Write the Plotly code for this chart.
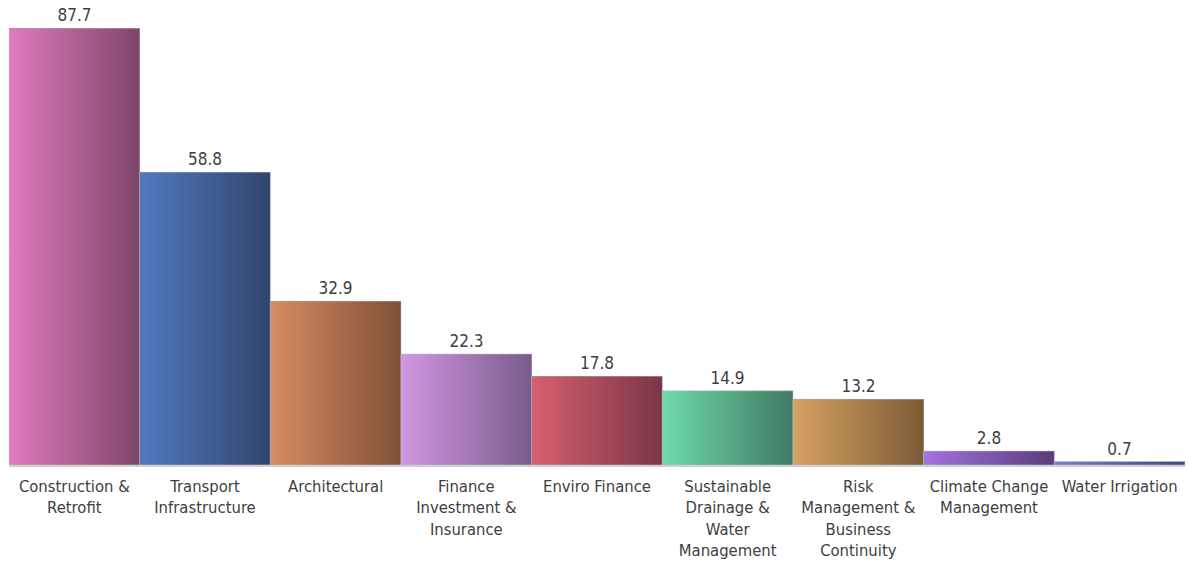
import plotly.graph_objects as go

categories = [
    "Construction &<br>Retrofit",
    "Transport<br>Infrastructure",
    "Architectural",
    "Finance<br>Investment &<br>Insurance",
    "Enviro Finance",
    "Sustainable<br>Drainage &<br>Water<br>Management",
    "Risk<br>Management &<br>Business<br>Continuity",
    "Climate Change<br>Management",
    "Water Irrigation",
]
values = [87.7, 58.8, 32.9, 22.3, 17.8, 14.9, 13.2, 2.8, 0.7]
left_colors = ["#e07bbf", "#5279c2", "#d98b63", "#d397e3", "#d6606f",
               "#6fdaab", "#d6a263", "#a273de", "#6b82d2"]
right_colors = ["#7e4669", "#30456d", "#7e5137", "#785b8a", "#7a3646",
                "#3f7a62", "#7c5a35", "#583c7a", "#394a7c"]

FONT = "Tahoma, 'DejaVu Sans Condensed', 'Liberation Sans', sans-serif"
TXT = "#404040"

fig = go.Figure()
x = list(range(len(values)))

# Base bars (carry the value labels)
fig.add_trace(go.Bar(
    x=x, y=values, width=1.0,
    marker=dict(color=right_colors, line=dict(width=0)),
    text=[f"{v:.1f}" for v in values], textposition="outside",
    textfont=dict(family=FONT, size=17, color=TXT),
    cliponaxis=False, showlegend=False, hoverinfo="skip",
))

# Gradient overlays built from the same data
for i, v in enumerate(values):
    fig.add_trace(go.Scatter(
        x=[i - 0.5, i + 0.5, i + 0.5, i - 0.5, i - 0.5],
        y=[0, 0, v, v, 0],
        mode="lines", fill="toself",
        fillgradient=dict(type="horizontal",
                          colorscale=[[0, left_colors[i]], [1, right_colors[i]]]),
        line=dict(width=1, color="rgba(190,190,200,0.55)"),
        showlegend=False, hoverinfo="skip",
    ))

fig.update_layout(
    width=1188, height=562,
    margin=dict(l=9, r=3, t=17, b=97, autoexpand=False),
    paper_bgcolor="white", plot_bgcolor="white",
    bargap=0,
    xaxis=dict(range=[-0.5, 8.5], tickvals=x, ticktext=categories,
               showgrid=False, zeroline=False, showline=True,
               linecolor="#d0d0d0", linewidth=2, ticks="",
               tickfont=dict(family=FONT, size=16.5, color=TXT),
               ticklabelstandoff=5, tickangle=0, automargin=False),
    yaxis=dict(range=[0, 90], visible=False, showgrid=False, zeroline=False,
               automargin=False),
    font=dict(family=FONT, color=TXT),
)

fig.write_html("out.html", config={"displayModeBar": False},
               post_script="document.body.style.margin='0';document.body.style.overflow='hidden';")
